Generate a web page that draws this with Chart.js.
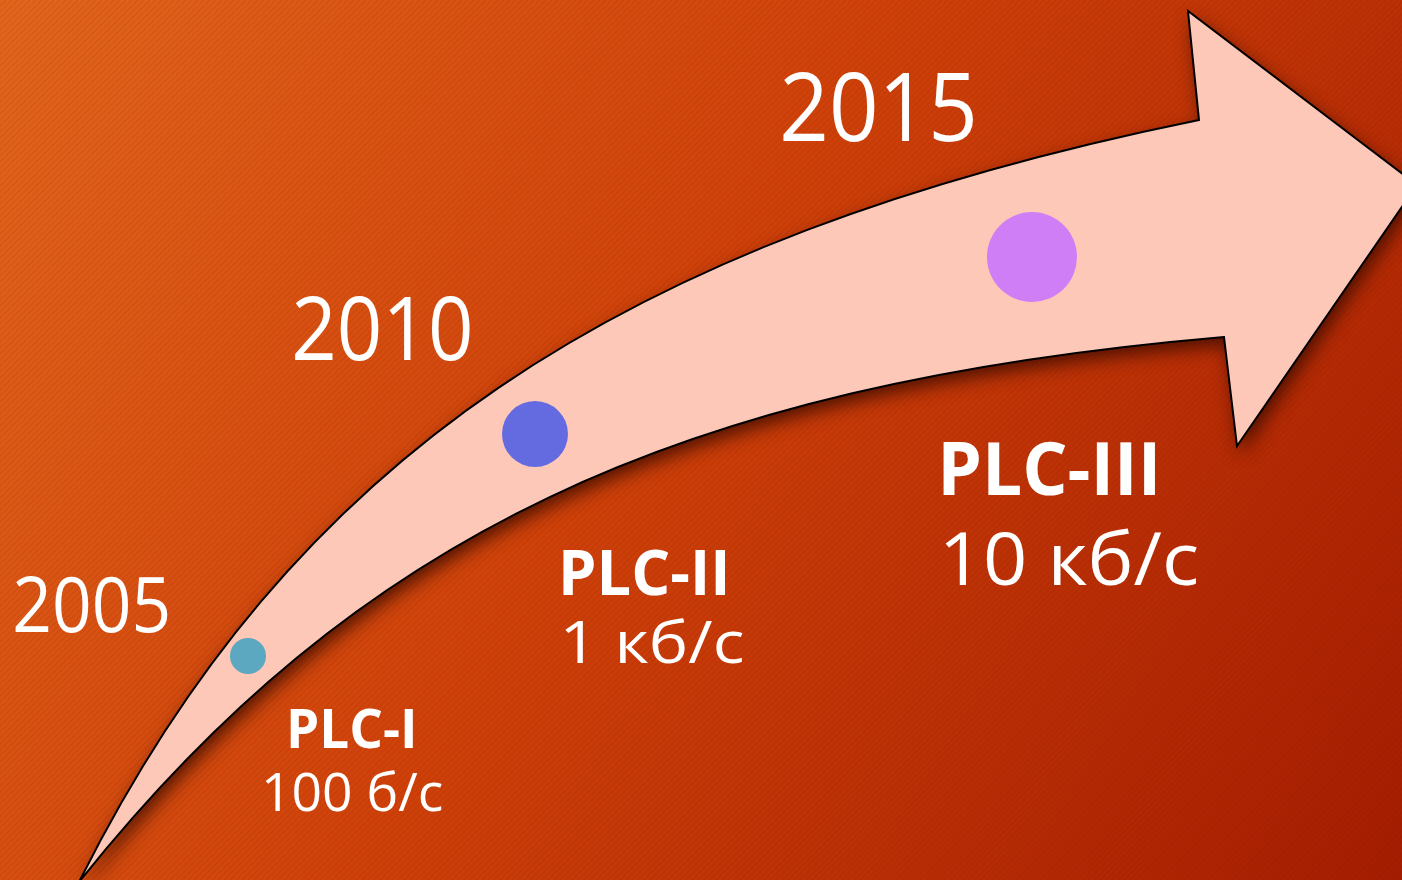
<!DOCTYPE html>
<html>
<head>
<meta charset="utf-8">
<title>PLC</title>
<script src="https://cdn.jsdelivr.net/npm/chart.js@4.4.1/dist/chart.umd.min.js"></script>
<style>
  html, body { margin: 0; padding: 0; background: #C83A0A; overflow: hidden; }
  #wrap { width: 1402px; height: 880px; position: relative; }
</style>
</head>
<body>
<div id="wrap"><canvas id="plcChart"></canvas></div>
<script>
// data
var years       = ['2005', '2010', '2015'];
var generations = ['PLC-I', 'PLC-II', 'PLC-III'];
var speeds      = ['100 б/с', '1 кб/с', '10 кб/с'];
var pointX      = [248, 535, 1032];
var pointY      = [656, 434, 257];
var pointR      = [18, 33, 45];
var pointColors = ['#5BA8C0', '#646BE0', '#D07EF6'];

// layout: [left, baseline, fontSize, inkWidth]
var yearBoxes  = [[15, 632, 76, 153], [295, 360, 87, 175], [783, 141, 95, 190]];
var genBoxes   = [[290, 748, 53, 123], [563, 595, 62, 162], [943, 495, 74, 212]];
var speedBoxes = [[265, 811, 53, 177], [565, 663, 59, 178], [945, 585, 73, 252]];

// arrow outline (scale units): cubic curves for the shaft, polyline for the head
var upperCurve = [[79, 882], [290, 460], [615, 239], [1199, 120]];
var lowerCurve = [[1224, 337], [675, 384], [355, 536], [79, 882]];
var arrowHead  = [[1188, 11], [1417, 185], [1237, 446]];

var FONT = '"Open Sans", "Noto Sans", sans-serif';

function toPx(chart, pts) {
  var xs = chart.scales.x, ys = chart.scales.y;
  return pts.map(function(p) { return [xs.getPixelForValue(p[0]), ys.getPixelForValue(p[1])]; });
}

var backdrop = {
  id: 'backdrop',
  beforeDraw: function(chart) {
    var ctx = chart.ctx, w = chart.width, h = chart.height;
    ctx.save();
    var g = ctx.createLinearGradient(0, 0, w, h);
    g.addColorStop(0, '#E4661D');
    g.addColorStop(0.45, '#D1420A');
    g.addColorStop(1, '#A61D02');
    ctx.fillStyle = g;
    ctx.fillRect(0, 0, w, h);
    ctx.strokeStyle = 'rgba(90,20,0,0.08)';
    ctx.lineWidth = 2;
    for (var k = -h; k < w + h; k += 6) {
      ctx.beginPath();
      ctx.moveTo(k, h);
      ctx.lineTo(k + h, 0);
      ctx.stroke();
    }
    ctx.restore();
  }
};

var arrow = {
  id: 'arrow',
  beforeDatasetsDraw: function(chart) {
    var ctx = chart.ctx;
    var up = toPx(chart, upperCurve), lo = toPx(chart, lowerCurve), hd = toPx(chart, arrowHead);
    ctx.save();
    ctx.beginPath();
    ctx.moveTo(up[0][0], up[0][1]);
    ctx.bezierCurveTo(up[1][0], up[1][1], up[2][0], up[2][1], up[3][0], up[3][1]);
    hd.forEach(function(p) { ctx.lineTo(p[0], p[1]); });
    ctx.lineTo(lo[0][0], lo[0][1]);
    ctx.bezierCurveTo(lo[1][0], lo[1][1], lo[2][0], lo[2][1], lo[3][0], lo[3][1]);
    ctx.closePath();
    ctx.shadowColor = 'rgba(60,12,0,0.85)';
    ctx.shadowBlur = 18;
    ctx.shadowOffsetX = 4;
    ctx.shadowOffsetY = 8;
    ctx.fillStyle = '#FDC8B8';
    ctx.fill();
    ctx.shadowColor = 'transparent';
    ctx.fill();
    ctx.lineWidth = 2;
    ctx.strokeStyle = '#000';
    ctx.stroke();
    ctx.restore();
  }
};

function fitText(ctx, text, box, weight) {
  ctx.font = weight + ' ' + box[2] + 'px ' + FONT;
  var m = ctx.measureText(text);
  var ink = m.actualBoundingBoxLeft + m.actualBoundingBoxRight;
  var s = box[3] / ink;
  ctx.save();
  ctx.translate(box[0], box[1]);
  ctx.scale(s, 1);
  ctx.fillText(text, m.actualBoundingBoxLeft, 0);
  ctx.restore();
}

var labels = {
  id: 'labels',
  afterDatasetsDraw: function(chart) {
    var ctx = chart.ctx;
    ctx.save();
    ctx.fillStyle = '#FFFFFF';
    ctx.textAlign = 'left';
    ctx.textBaseline = 'alphabetic';
    years.forEach(function(t, i) { fitText(ctx, t, yearBoxes[i], '400'); });
    generations.forEach(function(t, i) { fitText(ctx, t, genBoxes[i], '700'); });
    speeds.forEach(function(t, i) { fitText(ctx, t, speedBoxes[i], '400'); });
    ctx.restore();
  }
};

new Chart(document.getElementById('plcChart'), {
  type: 'bubble',
  data: {
    datasets: [{
      label: 'PLC',
      data: pointX.map(function(x, i) { return { x: x, y: pointY[i], r: pointR[i] }; }),
      backgroundColor: pointColors,
      borderWidth: 0,
      hoverRadius: 0
    }]
  },
  options: {
    responsive: true,
    maintainAspectRatio: false,
    animation: false,
    events: [],
    layout: { padding: 0, autoPadding: false },
    plugins: { legend: { display: false }, tooltip: { enabled: false } },
    scales: {
      x: { type: 'linear', min: 0, max: 1402, display: false },
      y: { type: 'linear', min: 0, max: 880, reverse: true, display: false }
    }
  },
  plugins: [backdrop, arrow, labels]
});
</script>
</body>
</html>
